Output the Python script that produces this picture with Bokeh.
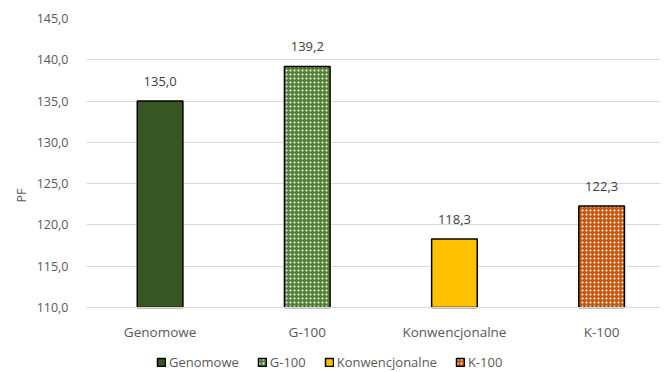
from bokeh.plotting import figure
from bokeh.models import ColumnDataSource, FixedTicker, Legend, LegendItem, Range1d
from bokeh.embed import file_html
from bokeh.resources import INLINE
from bokeh.core.properties import value

categories = ["Genomowe", "G-100", "Konwencjonalne", "K-100"]
pf_values = [135.0, 139.2, 118.3, 122.3]
y_ticks = [110, 115, 120, 125, 130, 135, 140, 145]

fill_colors = ["#375623", "#548235", "#FFC000", "#C55A11"]
hatches = [" ", "dot", " ", "dot"]

FONT = "Open Sans"
GREY = "#595959"

W, H = 670, 372
TOP, BOTTOM_AXIS_PX = 18, 307   # pixel rows of the 145 and 110 gridlines
y_min, y_max = y_ticks[0], y_ticks[-1]
# frame reaches the bottom of the canvas; extend the range below 110 so that
# 110 sits at the axis row and the legend can live inside the frame
y_start = y_max - (y_max - y_min) * (H - TOP) / (BOTTOM_AXIS_PX - TOP)

xs = list(range(len(categories)))
base = [y_min] * len(categories)
labels = [f"{v:.1f}".replace(".", ",") for v in pf_values]

src = ColumnDataSource(dict(x=xs, top=pf_values, bottom=base, color=fill_colors,
                            hatch=hatches, cat=categories, lab=labels))

p = figure(width=W, height=H, output_backend="svg", toolbar_location=None,
           x_range=Range1d(-0.5, 3.4), y_range=Range1d(y_start, y_max),
           min_border_left=86, min_border_right=10, min_border_top=TOP,
           min_border_bottom=0)
p.outline_line_color = None
p.background_fill_color = "white"
p.border_fill_color = "white"

r = p.vbar(x="x", top="top", bottom="bottom", width=0.31, source=src,
           fill_color="color", line_color="black", line_width=1.5,
           hatch_pattern="hatch", hatch_color="white", hatch_scale=4.0,
           hatch_weight=1.5)

p.text(x="x", y="top", text="lab", source=src, text_align="center",
       text_baseline="bottom", y_offset=-15, text_font=value(FONT),
       text_font_size="13px", text_color="#404040")

# axes
p.yaxis.ticker = FixedTicker(ticks=y_ticks)
p.yaxis.major_label_overrides = {t: f"{t:.1f}".replace(".", ",") for t in y_ticks}
p.yaxis.axis_line_color = None
p.yaxis.major_tick_line_color = None
p.yaxis.minor_tick_line_color = None
p.yaxis.major_label_standoff = 12
p.yaxis.major_label_text_font = FONT
p.yaxis.major_label_text_font_size = "12.5px"
p.yaxis.major_label_text_color = GREY
p.yaxis.axis_label = "PF"
p.yaxis.axis_label_text_font = FONT
p.yaxis.axis_label_text_font_style = "normal"
p.yaxis.axis_label_text_font_size = "12.5px"
p.yaxis.axis_label_text_color = GREY
p.yaxis.axis_label_standoff = 4

p.xaxis.fixed_location = y_min
p.xaxis.ticker = FixedTicker(ticks=xs)
p.xaxis.major_label_overrides = {i: c for i, c in enumerate(categories)}
p.xaxis.axis_line_color = "#D9D9D9"
p.xaxis.major_tick_line_color = None
p.xaxis.minor_tick_line_color = None
p.xaxis.major_label_standoff = 9
p.xaxis.major_label_text_font = FONT
p.xaxis.major_label_text_font_size = "13.5px"
p.xaxis.major_label_text_color = GREY

p.xgrid.grid_line_color = None
p.ygrid.grid_line_color = "#D9D9D9"
p.ygrid.grid_line_width = 1

legend = Legend(items=[LegendItem(label=categories[i], renderers=[r], index=i) for i in xs],
                orientation="horizontal", location=(70, 1),
                label_text_font=FONT, label_text_font_size="13px",
                label_text_color=GREY, glyph_width=10, glyph_height=10,
                label_standoff=3, spacing=18, padding=1, margin=0,
                border_line_color=None, background_fill_alpha=0)
p.add_layout(legend)

open("out.html", "w").write(file_html(p, INLINE))
